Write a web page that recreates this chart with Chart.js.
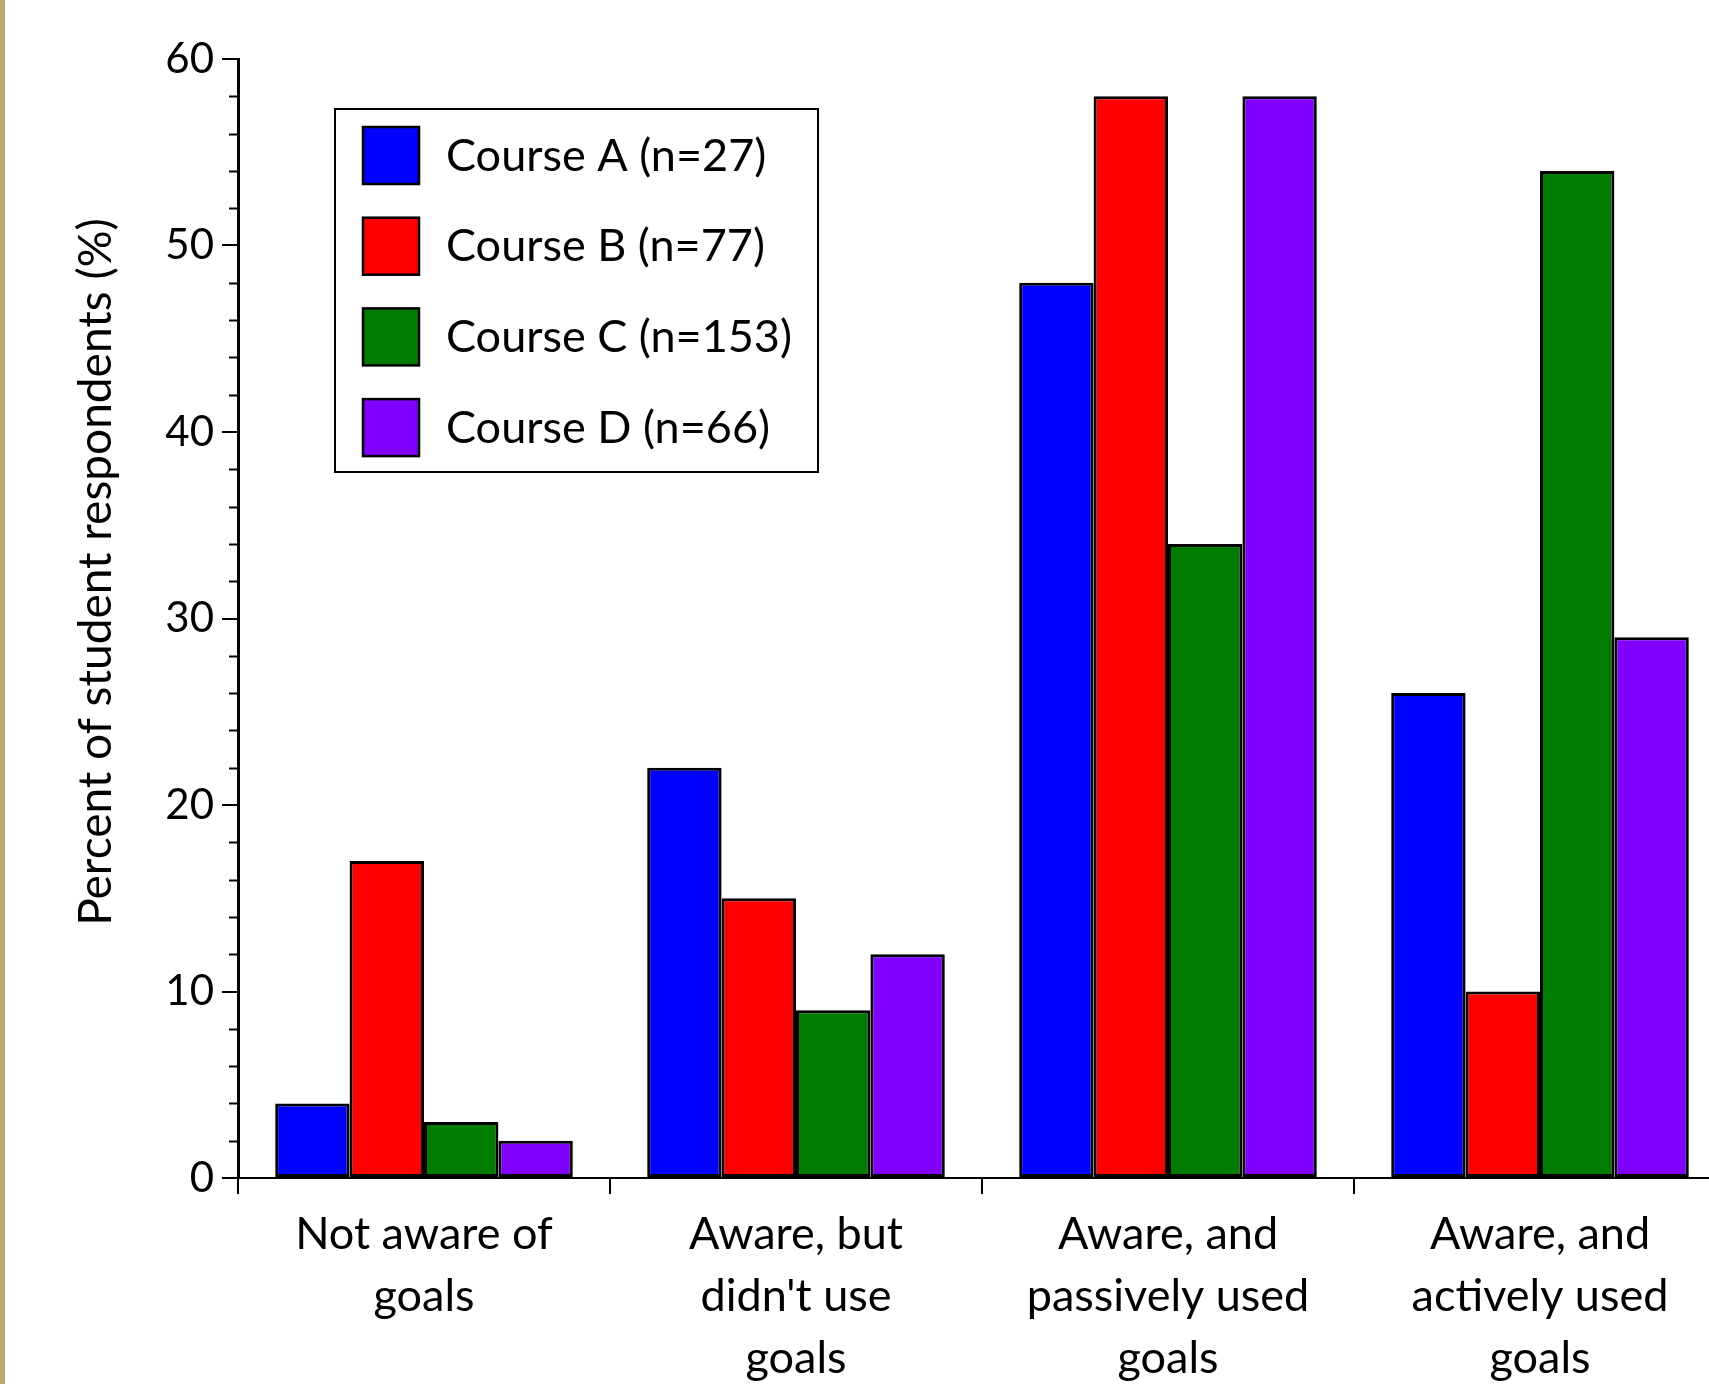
<!DOCTYPE html>
<html lang="en">
<head>
    <meta charset="UTF-8">
    <title>Goal awareness by course</title>
    <script src="https://cdn.jsdelivr.net/npm/chart.js"></script>
    <style>
        body { margin: 0; overflow: hidden; background: #fff; }
        #wrap { position: relative; width: 1760px; height: 1384px; }
        #stripe { position: absolute; left: 0; top: 0; width: 5px; height: 1384px; background: #bca86b; }
    </style>
</head>
<body>
    <div id="wrap">
        <canvas id="goalsChart" width="1760" height="1384"></canvas>
        <div id="stripe"></div>
    </div>

    <script>
        // categorías y valores (%)
        const categories = [
            ['Not aware of', 'goals'],
            ['Aware, but', "didn't use", 'goals'],
            ['Aware, and', 'passively used', 'goals'],
            ['Aware, and', 'actively used', 'goals']
        ];
        const seriesNames = ['Course A (n=27)', 'Course B (n=77)', 'Course C (n=153)', 'Course D (n=66)'];
        const courseA = [4, 22, 48, 26];
        const courseB = [17, 15, 58, 10];
        const courseC = [3, 9, 34, 54];
        const courseD = [2, 12, 58, 29];
        const colors = ['#0000ff', '#ff0000', '#007d00', '#8000ff'];
        const yTitle = 'Percent of student respondents (%)';

        const FONT = 'Lato';

        // marcas menores cada 2 en el eje y
        const minorTicks = {
            id: 'minorTicks',
            afterDraw(chart) {
                const y = chart.scales.y;
                const ctx = chart.ctx;
                const x0 = chart.chartArea.left;
                ctx.save();
                ctx.strokeStyle = '#000';
                ctx.lineWidth = 2;
                for (let v = 2; v < 60; v += 2) {
                    if (v % 10 === 0) continue;
                    const py = Math.round(y.getPixelForValue(v)) + 0.5;
                    ctx.beginPath();
                    ctx.moveTo(x0 - 9, py);
                    ctx.lineTo(x0, py);
                    ctx.stroke();
                }
                ctx.restore();
            }
        };

        // título del eje y (un poco por encima del centro, como en el original)
        const yTitlePlugin = {
            id: 'yTitlePlugin',
            afterDraw(chart) {
                const ctx = chart.ctx;
                ctx.save();
                ctx.translate(96, 572);
                ctx.rotate(-Math.PI / 2);
                ctx.font = '46px ' + FONT;
                ctx.fillStyle = '#000';
                ctx.textAlign = 'center';
                ctx.textBaseline = 'middle';
                ctx.fillText(yTitle, 0, 0);
                ctx.restore();
            }
        };

        // leyenda con recuadro
        const boxLegend = {
            id: 'boxLegend',
            afterDraw(chart) {
                const ctx = chart.ctx;
                ctx.save();
                ctx.fillStyle = '#fff';
                ctx.fillRect(335, 109, 483, 363);
                ctx.strokeStyle = '#000';
                ctx.lineWidth = 2;
                ctx.strokeRect(335, 109, 483, 363);
                ctx.font = '45px ' + FONT;
                ctx.textBaseline = 'middle';
                chart.data.datasets.forEach((ds, i) => {
                    const cy = 155 + i * 90.7;
                    ctx.fillStyle = ds.backgroundColor;
                    ctx.fillRect(363, cy - 28, 56, 57);
                    ctx.lineWidth = 2.5;
                    ctx.strokeRect(363, cy - 28, 56, 57);
                    ctx.fillStyle = '#000';
                    ctx.fillText(ds.label, 446, cy + 1);
                });
                ctx.restore();
            }
        };

        const seriesData = [courseA, courseB, courseC, courseD];

        const ctx = document.getElementById('goalsChart').getContext('2d');
        new Chart(ctx, {
            type: 'bar',
            data: {
                labels: categories,
                datasets: seriesData.map((d, i) => ({
                    label: seriesNames[i],
                    data: d,
                    backgroundColor: colors[i],
                    borderColor: '#000',
                    borderWidth: 3,
                    borderSkipped: false,
                    barPercentage: 1.0,
                    categoryPercentage: 0.8
                }))
            },
            options: {
                responsive: false,
                animation: false,
                devicePixelRatio: 1,
                layout: { padding: { left: 0, top: 59, right: 34, bottom: 0 } },
                plugins: {
                    legend: { display: false },
                    tooltip: { enabled: false }
                },
                scales: {
                    x: {
                        offset: true,
                        grid: { offset: true, drawOnChartArea: false, tickLength: 16, color: '#000', lineWidth: 2 },
                        border: { color: '#000', width: 2 },
                        ticks: {
                            color: '#000',
                            font: { family: FONT, size: 45, lineHeight: 1.38 },
                            maxRotation: 0,
                            autoSkip: false,
                            padding: 9
                        },
                        afterFit(scale) { scale.height = 206; }
                    },
                    y: {
                        min: 0,
                        max: 60,
                        grid: { drawOnChartArea: false, tickLength: 16, color: '#000', lineWidth: 2 },
                        border: { color: '#000', width: 3 },
                        ticks: {
                            stepSize: 10,
                            color: '#000',
                            font: { family: FONT, size: 42 },
                            padding: 8
                        },
                        afterFit(scale) { scale.width = 238; }
                    }
                }
            },
            plugins: [minorTicks, yTitlePlugin, boxLegend]
        });
    </script>
</body>
</html>
